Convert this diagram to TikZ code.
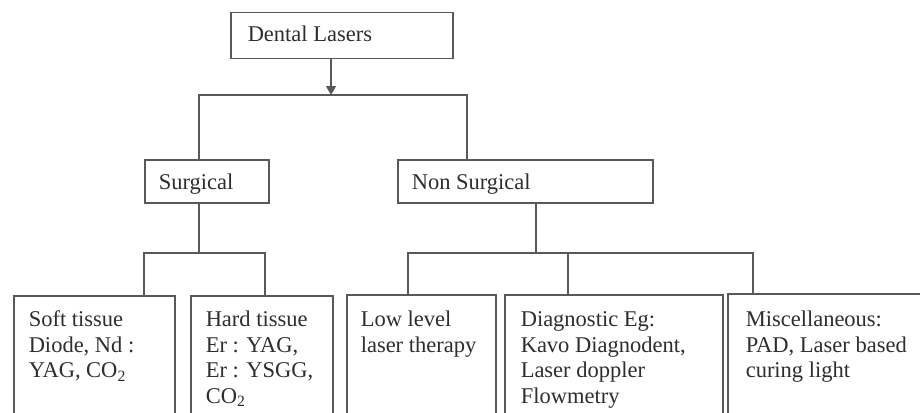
\documentclass[tikz,border=0pt]{standalone}
\usepackage{fontspec}
\setmainfont{Liberation Serif}
\usetikzlibrary{arrows.meta}
\newcommand{\bxt}[5]{\parbox[t][#2][t]{#1}{\raggedright\leftskip=#3\relax\rule{0pt}{#4}#5}}
\begin{document}
\begin{tikzpicture}[x=1pt,y=-1pt,
  box/.style={draw=black!65, line width=1.5pt, inner sep=0pt, anchor=north west, text=black!82},
  conn/.style={draw=black!65, line width=1.5pt},
  tip/.style={-{Triangle[length=9pt,width=10pt]}},
  font=\fontsize{22.5}{25.5}\selectfont]
\useasboundingbox (0,0) rectangle (920,412);
\clip (0,0) rectangle (920,412);
\fill[white] (0,0) rectangle (920,412);

\node[box] (dental) at (230,12) {\bxt{222pt}{46pt}{17pt}{29pt}{Dental Lasers}};
\node[box] (surg) at (144,159) {\bxt{124pt}{43pt}{14pt}{30pt}{Surgical}};
\node[box] (nons) at (397,159) {\bxt{255pt}{43pt}{14pt}{30pt}{Non Surgical}};

\node[box] (soft) at (13,295) {\bxt{161pt}{140pt}{15pt}{31pt}{Soft tissue\\Diode, Nd :\\YAG, CO\textsubscript{2}}};
\node[box] (hard) at (190,295) {\bxt{142pt}{140pt}{15pt}{31pt}{Hard tissue\\Er : YAG,\\Er : YSGG,\\CO\textsubscript{2}}};
\node[box] (low) at (346,294) {\bxt{149pt}{140pt}{14pt}{32pt}{Low level\\laser therapy}};
\node[box] (diag) at (504,294) {\bxt{218pt}{140pt}{16pt}{32pt}{Diagnostic Eg:\\Kavo Diagnodent,\\Laser doppler\\Flowmetry}};
\node[box, draw=none] (misc) at (728,294) {\bxt{200pt}{140pt}{17pt}{32pt}{Miscellaneous:\\PAD, Laser based\\curing light}};
\draw[conn] (misc.south west) |- (misc.north east);

\coordinate (t1) at (331,95);
\coordinate (t1l) at (199,95);
\coordinate (t1r) at (467,95);
\draw[conn,tip] (dental.south -| t1) -- (t1);
\draw[conn] (surg.north -| t1l) -- (t1l) -- (t1r) -- (nons.north -| t1r);

\coordinate (t2) at (199,253);
\coordinate (t2l) at (144,253);
\coordinate (t2r) at (265,253);
\draw[conn] (surg.south -| t2) -- (t2);
\draw[conn] (soft.north -| t2l) -- (t2l) -- (t2r) -- (hard.north -| t2r);

\coordinate (t3) at (536,253);
\coordinate (t3l) at (408,253);
\coordinate (t3m) at (568,253);
\coordinate (t3r) at (753,253);
\draw[conn] (nons.south -| t3) -- (t3);
\draw[conn] (low.north -| t3l) -- (t3l) -- (t3r) -- (misc.north -| t3r);
\draw[conn] (diag.north -| t3m) -- (t3m);
\end{tikzpicture}
\end{document}
